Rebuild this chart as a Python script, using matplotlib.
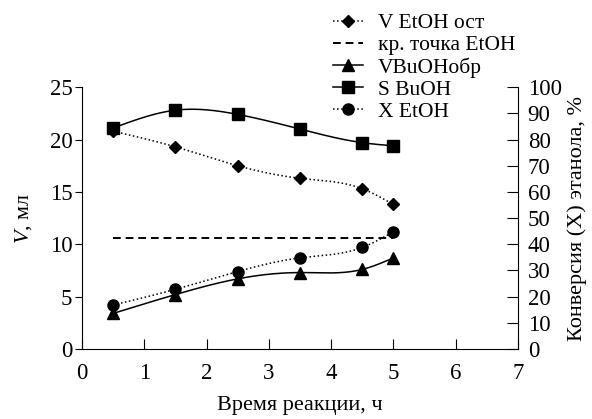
import numpy as np
import matplotlib
matplotlib.use("Agg")
import matplotlib.pyplot as plt

# Data
time_h = [0.5, 1.5, 2.5, 3.5, 4.5, 5.0]
v_etoh_ost = [20.8, 19.3, 17.5, 16.3, 15.3, 13.8]
crit_etoh = 10.6
v_buoh_obr = [3.4, 5.2, 6.7, 7.3, 7.6, 8.7]
s_buoh = [21.1, 22.8, 22.4, 21.0, 19.7, 19.4]
x_etoh_pct = [16.8, 22.8, 29.6, 34.8, 38.8, 44.8]

plt.rcParams['font.family'] = ['Liberation Serif', 'DejaVu Serif']
plt.rcParams['mathtext.fontset'] = 'custom'
plt.rcParams['mathtext.it'] = 'Liberation Serif:italic'


def smooth(xs, ys, n=200):
    """Natural cubic spline through the points, for drawing only."""
    x = np.asarray(xs, float)
    y = np.asarray(ys, float)
    k = len(x)
    h = np.diff(x)
    A = np.zeros((k, k))
    b = np.zeros(k)
    A[0, 0] = A[-1, -1] = 1
    for i in range(1, k - 1):
        A[i, i - 1] = h[i - 1]
        A[i, i] = 2 * (h[i - 1] + h[i])
        A[i, i + 1] = h[i]
        b[i] = 6 * ((y[i + 1] - y[i]) / h[i] - (y[i] - y[i - 1]) / h[i - 1])
    m = np.linalg.solve(A, b)
    xx = np.linspace(x[0], x[-1], n)
    j = np.clip(np.searchsorted(x, xx) - 1, 0, k - 2)
    t = xx - x[j]
    hj = h[j]
    yy = (m[j] * (x[j + 1] - xx) ** 3 / (6 * hj) + m[j + 1] * t ** 3 / (6 * hj)
          + (y[j] / hj - m[j] * hj / 6) * (x[j + 1] - xx)
          + (y[j + 1] / hj - m[j + 1] * hj / 6) * t)
    return xx, yy


fig = plt.figure(figsize=(5.92, 4.19), dpi=100)
ax = fig.add_axes([0.1385, 0.167, 0.7365, 0.625])
ax2 = ax.twinx()

def series(axis, ys, marker, ls, ms, label):
    xx, yy = smooth(time_h, ys)
    axis.plot(xx, yy, color='black', ls=ls, lw=1.1)
    axis.plot(time_h, ys, ls='none', marker=marker, ms=ms, color='black')
    return axis.plot([], [], color='black', ls=ls, lw=1.1, marker=marker, ms=ms, label=label)[0]

h1 = series(ax, v_etoh_ost, 'D', ':', 6.5, 'V EtOH ост')
h2, = ax.plot([time_h[0], time_h[-1]], [crit_etoh, crit_etoh], color='black', ls=(0, (4, 2.5)),
              lw=1.4, label='кр. точка EtOH')
h3 = series(ax, v_buoh_obr, '^', '-', 8, 'VBuOHобр')
h4 = series(ax, s_buoh, 's', '-', 8.5, 'S BuOH')
h5 = series(ax2, x_etoh_pct, 'o', ':', 8, 'X EtOH')

ax.set_xlim(0, 7)
ax.set_ylim(0, 25)
ax2.set_ylim(0, 100)
ax.set_xticks(range(0, 8))
ax.set_yticks(range(0, 26, 5))
ax2.set_yticks(range(0, 101, 10))

for a in (ax, ax2):
    a.spines['top'].set_visible(False)
ax.spines['right'].set_visible(False)
ax2.spines['left'].set_visible(False)
ax2.spines['bottom'].set_visible(False)

ax.tick_params(axis='x', direction='in', length=7, labelsize=16.5, pad=10)
ax.tick_params(axis='y', direction='out', length=5, labelsize=16.5, pad=2)
ax2.tick_params(axis='y', direction='in', length=8, labelsize=16.5, pad=7)

ax.set_xlabel('Время реакции, ч', fontsize=16, labelpad=9)
ax.set_ylabel('$V$, мл', fontsize=16, labelpad=11)
ax2.set_ylabel('Конверсия (X) этанола, %', fontsize=16, labelpad=4)

fig.legend(handles=[h1, h2, h3, h4, h5], loc='upper left', bbox_to_anchor=(0.562, 0.968),
           frameon=False, fontsize=15.5, handlelength=1.4, handletextpad=0.7,
           labelspacing=0.09, borderpad=0.0, borderaxespad=0.0)

fig.savefig('out.png', dpi=100)
